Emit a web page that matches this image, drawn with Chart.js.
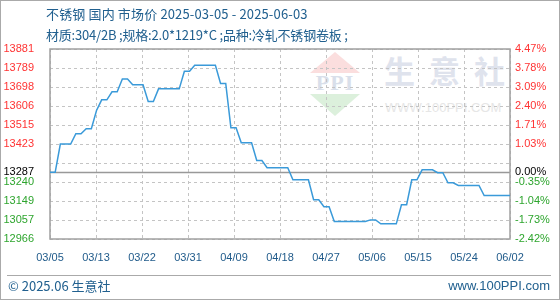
<!DOCTYPE html>
<html>
<head>
<meta charset="utf-8">
<script src="https://cdn.jsdelivr.net/npm/chart.js@4"></script>
<style>
html,body{margin:0;padding:0;background:#fff;}
#wrap{position:relative;width:560px;height:300px;overflow:hidden;font-family:"Noto Sans CJK SC","Noto Sans",sans-serif;}
#frame{position:absolute;left:0;top:0;width:558px;height:298px;border:1px solid #aaa;}
.t{position:absolute;white-space:nowrap;color:#21608f;}
#title{left:46px;top:5px;font-size:13px;line-height:17px;letter-spacing:0.15px;}
#sub{left:46px;top:26px;font-size:13px;line-height:17px;letter-spacing:-0.2px;}
#foot-line{position:absolute;left:7px;top:275px;width:544px;height:0;border-top:1px solid #aaa;}
#foot-l{left:8px;top:277px;font-size:13px;line-height:17px;}
#foot-r{right:10px;top:277px;font-size:13px;line-height:17px;font-family:"Liberation Sans",sans-serif;}
.wm{position:absolute;white-space:nowrap;}
#tri-r{left:310px;top:52px;width:0;height:0;border-left:25px solid transparent;border-right:25px solid transparent;border-bottom:21px solid #fbdede;}
#tri-g{left:310px;top:94px;width:0;height:0;border-left:25px solid transparent;border-right:25px solid transparent;border-top:22px solid #dcf0dc;}
#ppi{left:310px;top:72px;width:50px;text-align:center;font-family:"Liberation Serif",serif;font-weight:bold;font-size:22px;line-height:22px;color:#d9dfea;letter-spacing:1px;}
#wm-cn{left:384px;top:50px;font-size:31px;line-height:40px;font-weight:bold;color:#dfe3ed;letter-spacing:14px;}
#wm-en{left:385px;top:100px;font-size:13px;line-height:15px;color:#e6e6e6;font-family:"Liberation Sans",sans-serif;}
canvas{position:absolute;left:0;top:0;}
</style>
</head>
<body>
<div id="wrap">
  <div id="tri-r" class="wm"></div>
  <div id="ppi" class="wm">PPI</div>
  <div id="tri-g" class="wm"></div>
  <div id="wm-cn" class="wm">生意社</div>
  <div id="wm-en" class="wm">WWW.100PPI.COM</div>
  <canvas id="c" width="560" height="300"></canvas>
  <div id="title" class="t">不锈钢 国内 市场价 2025-03-05 - 2025-06-03</div>
  <div id="sub" class="t">材质:304/2B ;规格:2.0*1219*C ;品种:冷轧不锈钢卷板 ;</div>
  <div id="foot-line"></div>
  <div id="foot-l" class="t">© 2025.06 生意社</div>
  <div id="foot-r" class="t">www.100PPI.com</div>
  <div id="frame"></div>
</div>
<script>
// Day offsets from 2025-03-05 and price (元/吨)
const dayOffsets = [0,1,2,4,5,6,7,8,9,10,11,12,13,14,15,16,18,19,20,21,25,26,27,28,32,33,34,35,36,37,39,40,41,42,46,47,50,51,52,53,54,55,61,62,63,64,67,68,69,70,71,72,74,75,76,77,78,79,83,84,89];
const prices = [13287,13287,13423,13423,13473,13473,13497,13497,13585,13636,13636,13675,13675,13737,13737,13709,13709,13628,13628,13689,13689,13774,13774,13803,13803,13715,13715,13502,13502,13429,13429,13344,13344,13309,13309,13251,13251,13155,13155,13121,13121,13050,13050,13058,13058,13039,13039,13131,13131,13251,13251,13299,13299,13285,13285,13237,13237,13224,13224,13175,13175];

const xTickLabels = ["03/05","03/13","03/22","03/31","04/09","04/18","04/27","05/06","05/15","05/24","06/02"];
const basePrice = 13287;
const yMin = 12966, yMax = 13881;
const yTickValues = [13881,13789.5,13698,13606.5,13515,13423.5,13332,13287,13240.5,13149,13057.5,12966];
const yTickLabels = ["13881","13789","13698","13606","13515","13423","","13287","13240","13149","13057","12966"];
const pctLabels = ["4.47%","3.78%","3.09%","2.40%","1.71%","1.03%","","0.00%","-0.35%","-1.04%","-1.73%","-2.42%"];
const xMax = 89;

const points = dayOffsets.map((d,i)=>({x:d,y:prices[i]}));

function tickColor(ctx){
  const v = ctx.tick ? ctx.tick.value : 0;
  if (Math.abs(v-basePrice) < 0.01) return '#000';
  return v > basePrice ? '#ff3333' : '#2ea52e';
}
function setYTicks(axis){ axis.ticks = yTickValues.map(v=>({value:v})); }
function labelFor(list){ return function(value){ const i = yTickValues.findIndex(v=>Math.abs(v-value)<0.01); return i>=0 ? list[i] : ''; }; }

const gridPlugin = {
  id:'dashgrid',
  beforeDatasetsDraw(chart){
    const {ctx, chartArea:a, scales} = chart;
    ctx.save();
    ctx.lineWidth = 1;
    ctx.strokeStyle = '#c4c4c4';
    ctx.setLineDash([3,3]);
    scales.y.ticks.forEach(t=>{
      if (Math.abs(t.value-basePrice)<0.01) return;
      const y = Math.round(scales.y.getPixelForValue(t.value)) + 0.5;
      ctx.beginPath(); ctx.moveTo(a.left, y); ctx.lineTo(a.right, y); ctx.stroke();
    });
    scales.x.ticks.forEach(t=>{
      const x = Math.round(scales.x.getPixelForValue(t.value)) + 0.5;
      ctx.beginPath(); ctx.moveTo(x, a.top); ctx.lineTo(x, a.bottom); ctx.stroke();
    });
    ctx.setLineDash([]);
    ctx.strokeStyle = '#999';
    ctx.lineWidth = 1.5;
    const yb = Math.round(scales.y.getPixelForValue(basePrice)) + 0.5;
    ctx.beginPath(); ctx.moveTo(a.left, yb); ctx.lineTo(a.right, yb); ctx.stroke();
    ctx.strokeStyle = '#a0a0a0';
    ctx.strokeRect(a.left, a.top, a.right-a.left, a.bottom-a.top);
    ctx.restore();
  }
};

new Chart(document.getElementById('c'), {
  type:'line',
  data:{datasets:[{data:points,borderColor:'#3a9ad9',borderWidth:1.5,pointRadius:0,tension:0,fill:false}]},
  options:{
    responsive:false,animation:false,
    layout:{padding:{top:49,left:0,right:0,bottom:0}},
    plugins:{legend:{display:false},tooltip:{enabled:false}},
    scales:{
      x:{type:'linear',min:0,max:xMax,
        afterBuildTicks(axis){ const t=[]; for(let k=0;k<xTickLabels.length;k++) t.push({value:axis.min+k*(axis.max-axis.min)/(xTickLabels.length-1)}); axis.ticks=t; },
        afterFit(s){ s.height = 61; },
        grid:{display:false,drawTicks:false},
        border:{display:false},
        ticks:{autoSkip:false,maxRotation:0,padding:12,color:'#1f5a8a',font:{family:'Liberation Sans',size:11},
          callback(v,i){ return xTickLabels[i]; }}
      },
      y:{type:'linear',position:'left',min:yMin,max:yMax,
        afterBuildTicks:setYTicks,
        afterFit(s){ s.width = 50; },
        grid:{display:false,drawTicks:false},
        border:{display:false},
        ticks:{autoSkip:false,padding:16,color:tickColor,font:{family:'Liberation Sans',size:11},callback:labelFor(yTickLabels)}
      },
      y1:{type:'linear',position:'right',min:yMin,max:yMax,
        afterBuildTicks:setYTicks,
        afterFit(s){ s.width = 50; },
        grid:{display:false,drawTicks:false},
        border:{display:false},
        ticks:{autoSkip:false,padding:5,color:tickColor,font:{family:'Liberation Sans',size:11},callback:labelFor(pctLabels)}
      }
    }
  },
  plugins:[gridPlugin]
});
</script>
</body>
</html>
